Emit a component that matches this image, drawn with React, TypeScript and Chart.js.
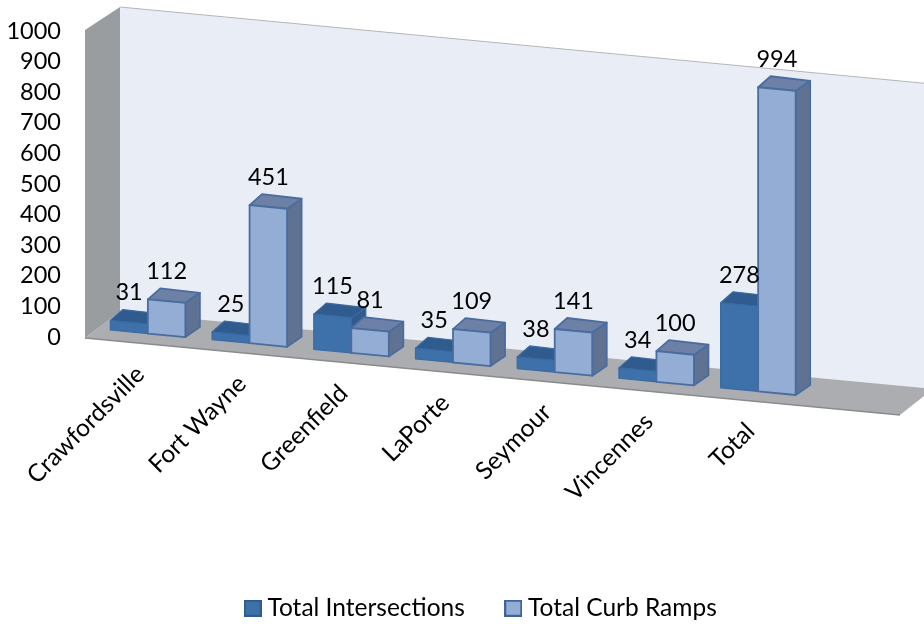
import React, { useEffect, useRef } from "react";
import { Chart, registerables } from "chart.js";

Chart.register(...registerables);

const categories = ["Crawfordsville", "Fort Wayne", "Greenfield", "LaPorte", "Seymour", "Vincennes", "Total"];
const totalIntersections = [31, 25, 115, 35, 38, 34, 278];
const totalCurbRamps = [112, 451, 81, 109, 141, 100, 994];
const yTicks = [0, 100, 200, 300, 400, 500, 600, 700, 800, 900, 1000];

const FONT = "Lato, 'Open Sans', sans-serif";
const FONT_SIZE = 23.5;
const TEXT_FONT_SIZE = 24.5;
const SLOPE = 0.0948;
const DX = 14.5;
const DY = -10;

const faces = [
  { front: "#3E70A9", top: "#2F5B8E", side: "#2F5B8E", line: "#3B6AA3", lw: 1.2 },
  { front: "#94ADD4", top: "#6C81A5", side: "#5F7292", line: "#4A6C9F", lw: 1.8 },
];

function poly(ctx: CanvasRenderingContext2D, pts: number[][], fill: string, line?: string, lw = 1.5) {
  ctx.beginPath();
  pts.forEach((p, i) => (i ? ctx.lineTo(p[0], p[1]) : ctx.moveTo(p[0], p[1])));
  ctx.closePath();
  ctx.fillStyle = fill;
  ctx.fill();
  if (line) {
    ctx.strokeStyle = line;
    ctx.lineWidth = lw;
    ctx.lineJoin = "round";
    ctx.stroke();
  }
}

function swatch(fill: string, line: string) {
  const c = document.createElement("canvas");
  c.width = 18;
  c.height = 17;
  const g = c.getContext("2d")!;
  g.fillStyle = fill;
  g.fillRect(0, 0, 18, 17);
  g.strokeStyle = line;
  g.lineWidth = 2;
  g.strokeRect(1, 1, 16, 15);
  return c;
}

const threeD = {
  id: "threeD",
  beforeLayout(chart: any) {
    const lg = chart.legend;
    if (lg && !lg.__wrapped) {
      lg.__wrapped = true;
      const fit = lg.fit;
      lg.fit = function () {
        fit.call(this);
        this.height = 41;
      };
    }
  },
  afterLayout(chart: any) {
    const lg = chart.legend;
    lg.left = 0;
    lg.right = 967;
    lg.top = 550;
    // the value axis runs from y=337 (0) to y=31 (1000)
    const y = chart.scales.y;
    y.top = 31;
    y.bottom = 337;
    y.height = 306;
    y.configure();
    chart.chartArea.top = 31;
    chart.chartArea.bottom = 337;
    chart.chartArea.height = 306;
  },
  beforeDraw(chart: any) {
    const { ctx } = chart;
    const base = chart.scales.y.getPixelForValue(0);
    const top = chart.scales.y.getPixelForValue(1000);
    const W = chart.width;
    // back wall
    poly(ctx, [[120, top - 24], [W, top - 24 + (W - 120) * SLOPE], [W, base + 51], [120, base - 25]], "#E9EDF5");
    ctx.beginPath();
    ctx.moveTo(120, top - 24);
    ctx.lineTo(W, top - 24 + (W - 120) * SLOPE);
    ctx.strokeStyle = "#B4B6B8";
    ctx.lineWidth = 1;
    ctx.stroke();
    // left wall
    poly(ctx, [[85, top - 1], [120, top - 24], [120, base - 25], [85, base + 1]], "#9A9D9F");
    // floor
    poly(ctx, [[85, base + 1], [120, base - 25], [W, base + 51], [W, base + 59], [900, base + 78]], "#ABADB0");
    ctx.beginPath();
    ctx.moveTo(85, base + 1);
    ctx.lineTo(900, base + 78);
    ctx.strokeStyle = "#8A8B8D";
    ctx.lineWidth = 1.5;
    ctx.stroke();
    // move the category labels along the slanted floor edge
    const xs = chart.scales.x;
    xs.getLabelItems(chart.chartArea).forEach((it: any, i: number) => {
      const tx = xs.getPixelForTick(i);
      it.options.translation = [tx - 18, 360 + (tx - 148) * 0.093];
      it.options.textAlign = "right";
      it.options.textBaseline = "middle";
      it.options.rotation = -Math.PI / 4;
    });
  },
  beforeDatasetsDraw(chart: any) {
    const { ctx } = chart;
    const base = chart.scales.y.getPixelForValue(0);
    const dropAt = (x: number) => (x - 184) * SLOPE;
    chart.data.datasets.forEach((_: any, di: number) => {
      const f = faces[di];
      chart.getDatasetMeta(di).data.forEach((bar: any) => {
        const w = bar.width;
        const l = bar.x - w / 2;
        const r = bar.x + w / 2;
        const h = base - bar.y;
        const bl = base + dropAt(l);
        const br = base + dropAt(r);
        const tl = bl - h;
        const tr = br - h;
        poly(ctx, [[r, tr], [r + DX, tr + DY], [r + DX, br + DY], [r, br]], f.side, f.line, f.lw);
        poly(ctx, [[l, tl], [l + DX - 2, tl + DY - 1], [r + DX, tr + DY], [r, tr]], f.top, f.line, f.lw);
        poly(ctx, [[l, tl], [r, tr], [r, br], [l, bl]], f.front, f.line, f.lw);
      });
    });
  },
  beforeDatasetDraw() {
    return false;
  },
  afterDraw(chart: any) {
    const { ctx } = chart;
    ctx.save();
    ctx.font = `${FONT_SIZE}px ${FONT}`;
    ctx.fillStyle = "#000";
    ctx.textAlign = "center";
    ctx.textBaseline = "middle";
    chart.data.datasets.forEach((ds: any, di: number) => {
      chart.getDatasetMeta(di).data.forEach((bar: any, i: number) => {
        const y = bar.y + (bar.x - 184) * SLOPE - 29.5;
        ctx.fillText(String(ds.data[i]), bar.x, y);
      });
    });
    ctx.restore();
  },
};

export default function App() {
  const ref = useRef<HTMLCanvasElement>(null);
  useEffect(() => {
    document.body.style.margin = "0";
    const swatches = [swatch("#3E70A9", "#2F5C8F"), swatch("#94ADD4", "#3F649B")];
    const chart = new Chart(ref.current!, {
      type: "bar",
      plugins: [threeD],
      data: {
        labels: categories,
        datasets: [
          { label: "Total Intersections", data: totalIntersections, backgroundColor: faces[0].front, borderColor: "#2F5C8F", borderWidth: 1.5, clip: false },
          { label: "Total Curb Ramps", data: totalCurbRamps, backgroundColor: faces[1].front, borderColor: "#3F649B", borderWidth: 1.5, clip: false },
        ] as any,
      },
      options: {
        animation: false,
        responsive: false,
        layout: { padding: { left: 0, right: 115, top: 21, bottom: 2 } },
        datasets: { bar: { categoryPercentage: 0.7377, barPercentage: 1 } },
        scales: {
          x: {
            grid: { display: false },
            border: { display: false },
            ticks: { font: { family: FONT, size: TEXT_FONT_SIZE }, color: "#000", maxRotation: 45, minRotation: 45, autoSkip: false },
            afterFit(s: any) { s.height = 244; },
          },
          y: {
            min: 0,
            max: 1000,
            afterBuildTicks(s: any) { s.ticks = yTicks.map((value) => ({ value })); },
            grid: { display: false },
            border: { display: false },
            ticks: { font: { family: FONT, size: FONT_SIZE }, color: "#000", padding: 28, autoSkip: false, callback: (v: any) => String(v) },
            afterFit(s: any) { s.width = 97; },
          },
        },
        plugins: {
          tooltip: { enabled: false },
          legend: {
            position: "bottom",
            labels: {
              font: { family: FONT, size: TEXT_FONT_SIZE },
              color: "#000",
              usePointStyle: true,
              pointStyleWidth: 5,
              boxHeight: 17,
              padding: 46,
              generateLabels(c: any) {
                return Chart.defaults.plugins.legend.labels.generateLabels(c).map((it: any, i: number) => ({ ...it, pointStyle: swatches[i] }));
              },
            },
          },
        },
      } as any,
    });
    return () => chart.destroy();
  }, []);
  return <canvas ref={ref} width={924} height={624} style={{ display: "block" }} />;
}
